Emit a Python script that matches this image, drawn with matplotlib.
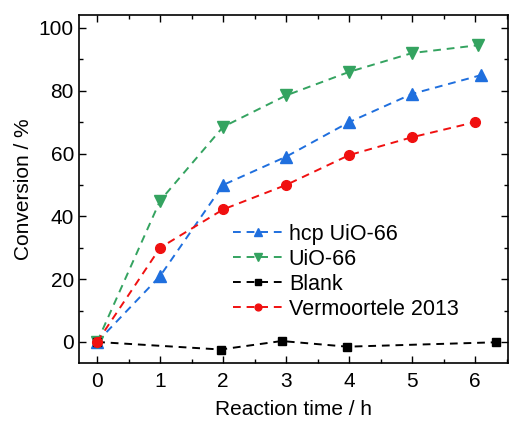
import matplotlib.pyplot as plt
from matplotlib.ticker import MultipleLocator

plt.rcParams['font.family'] = ['Liberation Sans', 'DejaVu Sans']

hcp_x = [0, 1, 2, 3, 4, 5, 6.1]
hcp_y = [0, 21, 50, 59, 70, 79, 85]
uio_x = [0, 1, 2, 3, 4, 5, 6.05]
uio_y = [0, 45, 68.5, 78.5, 86, 92, 94.5]
blank_x = [0, 1.96, 2.93, 3.97, 6.33]
blank_y = [0, -2.4, 0.3, -1.5, -0.1]
verm_x = [0, 1, 2, 3, 4, 5, 6]
verm_y = [0, 30, 42.2, 50, 59.5, 65.2, 70]

dash = (4, 3)
fig, ax = plt.subplots(figsize=(5.12, 4.21), dpi=100)
ax.plot(hcp_x, hcp_y, '--^', color='#1f6fde', ms=8, lw=1.4, dashes=dash, label='hcp UiO-66')
ax.plot(uio_x, uio_y, '--v', color='#34a360', ms=8, lw=1.4, dashes=dash, label='UiO-66')
ax.plot(blank_x, blank_y, '--s', color='black', ms=5.5, lw=1.4, dashes=dash, label='Blank')
ax.plot(verm_x, verm_y, '--o', color='#f01010', ms=7, lw=1.4, dashes=dash, label='Vermoortele 2013')

ax.set_xlim(-0.29, 6.52)
ax.set_ylim(-6.8, 104.2)
ax.xaxis.set_major_locator(MultipleLocator(1))
ax.xaxis.set_minor_locator(MultipleLocator(0.5))
ax.yaxis.set_major_locator(MultipleLocator(20))
ax.yaxis.set_minor_locator(MultipleLocator(10))
ax.tick_params(which='both', direction='in', top=True, right=True, labelsize=15, width=1)
ax.tick_params(which='major', length=5)
ax.tick_params(which='minor', length=3)
ax.tick_params(axis='x', pad=6)
for s in ax.spines.values():
    s.set_linewidth(1.2)
ax.set_xlabel('Reaction time / h', fontsize=15, labelpad=7)
ax.set_ylabel('Conversion / %', fontsize=15)
ax.legend(frameon=False, fontsize=15.5, loc='upper left', bbox_to_anchor=(0.359, 0.401),
          borderaxespad=0, borderpad=0, markerscale=0.7,
          handlelength=2.3, labelspacing=0.19, handletextpad=0.3)

fig.subplots_adjust(left=0.154, right=0.992, top=0.965, bottom=0.137)
fig.savefig('out.png', dpi=100)
